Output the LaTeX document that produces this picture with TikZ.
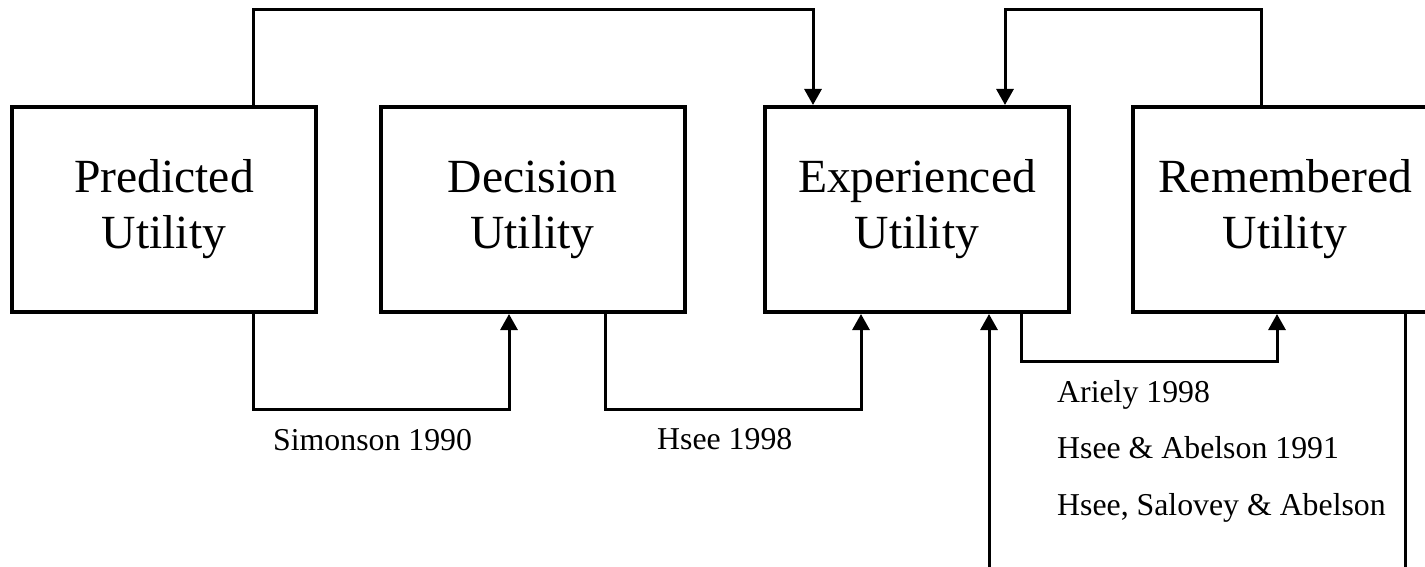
\documentclass[tikz,border=0pt]{standalone}
\usepackage{fontspec}
\setmainfont{Liberation Serif}
\usetikzlibrary{arrows.meta}
\tikzset{
  ubox/.style={draw, line width=4pt, minimum width=304pt, minimum height=205pt, inner sep=0pt,
    align=center, font=\fontsize{47.6}{56}\selectfont},
  conn/.style={line width=3pt},
  arr/.style={conn, -{Triangle[length=16pt,width=17pt]}},
  cite/.style={anchor=base west, inner sep=0pt, font=\fontsize{31.8}{38}\selectfont}
}
\begin{document}
\begin{tikzpicture}[x=1pt,y=-1pt]
\useasboundingbox (0,0) rectangle (1425,567);
\clip (0,0) rectangle (1425,567);
\fill[white] (0,0) rectangle (1425,567);
\node[ubox] (pu) at (164,209.5) {Predicted\\Utility};
\node[ubox] (du) at (532.5,209.5) {Decision\\Utility};
\node[ubox] (eu) at (917,209.5) {Experienced\\Utility};
\node[ubox] (ru) at (1285,209.5) {Remembered\\Utility};
\coordinate (b1) at (989,590);
\coordinate (b2) at (1405,590);
% top connectors
\draw[arr] (pu.north -| 253,0) -- (253,10) -| (eu.north -| 813,0);
\draw[arr] (ru.north -| 1261,0) -- (1261,10) -| (eu.north -| 1005,0);
% bottom connectors
\draw[arr] (pu.south -| 253,0) -- (253,409) -| (du.south -| 509,0);
\draw[arr] (du.south -| 605,0) -- (605,409) -| (eu.south -| 861,0);
\draw[arr] (eu.south -| 1021,0) -- (1021,361) -| (ru.south -| 1277,0);
\draw[arr] (b1) -- (eu.south -| b1);
\draw[conn] (ru.south -| b2) -- (b2);
% labels
\node[cite] (s90) at (273,450) {Simonson 1990};
\node[cite] (h98) at (657,449) {Hsee 1998};
\node[cite] (a98) at (1057,402) {Ariely 1998};
\node[cite] (ha91) at (1057,458) {Hsee \& Abelson 1991};
\node[cite] (hsa) at (1057,515) {Hsee, Salovey \& Abelson};
\end{tikzpicture}
\end{document}
